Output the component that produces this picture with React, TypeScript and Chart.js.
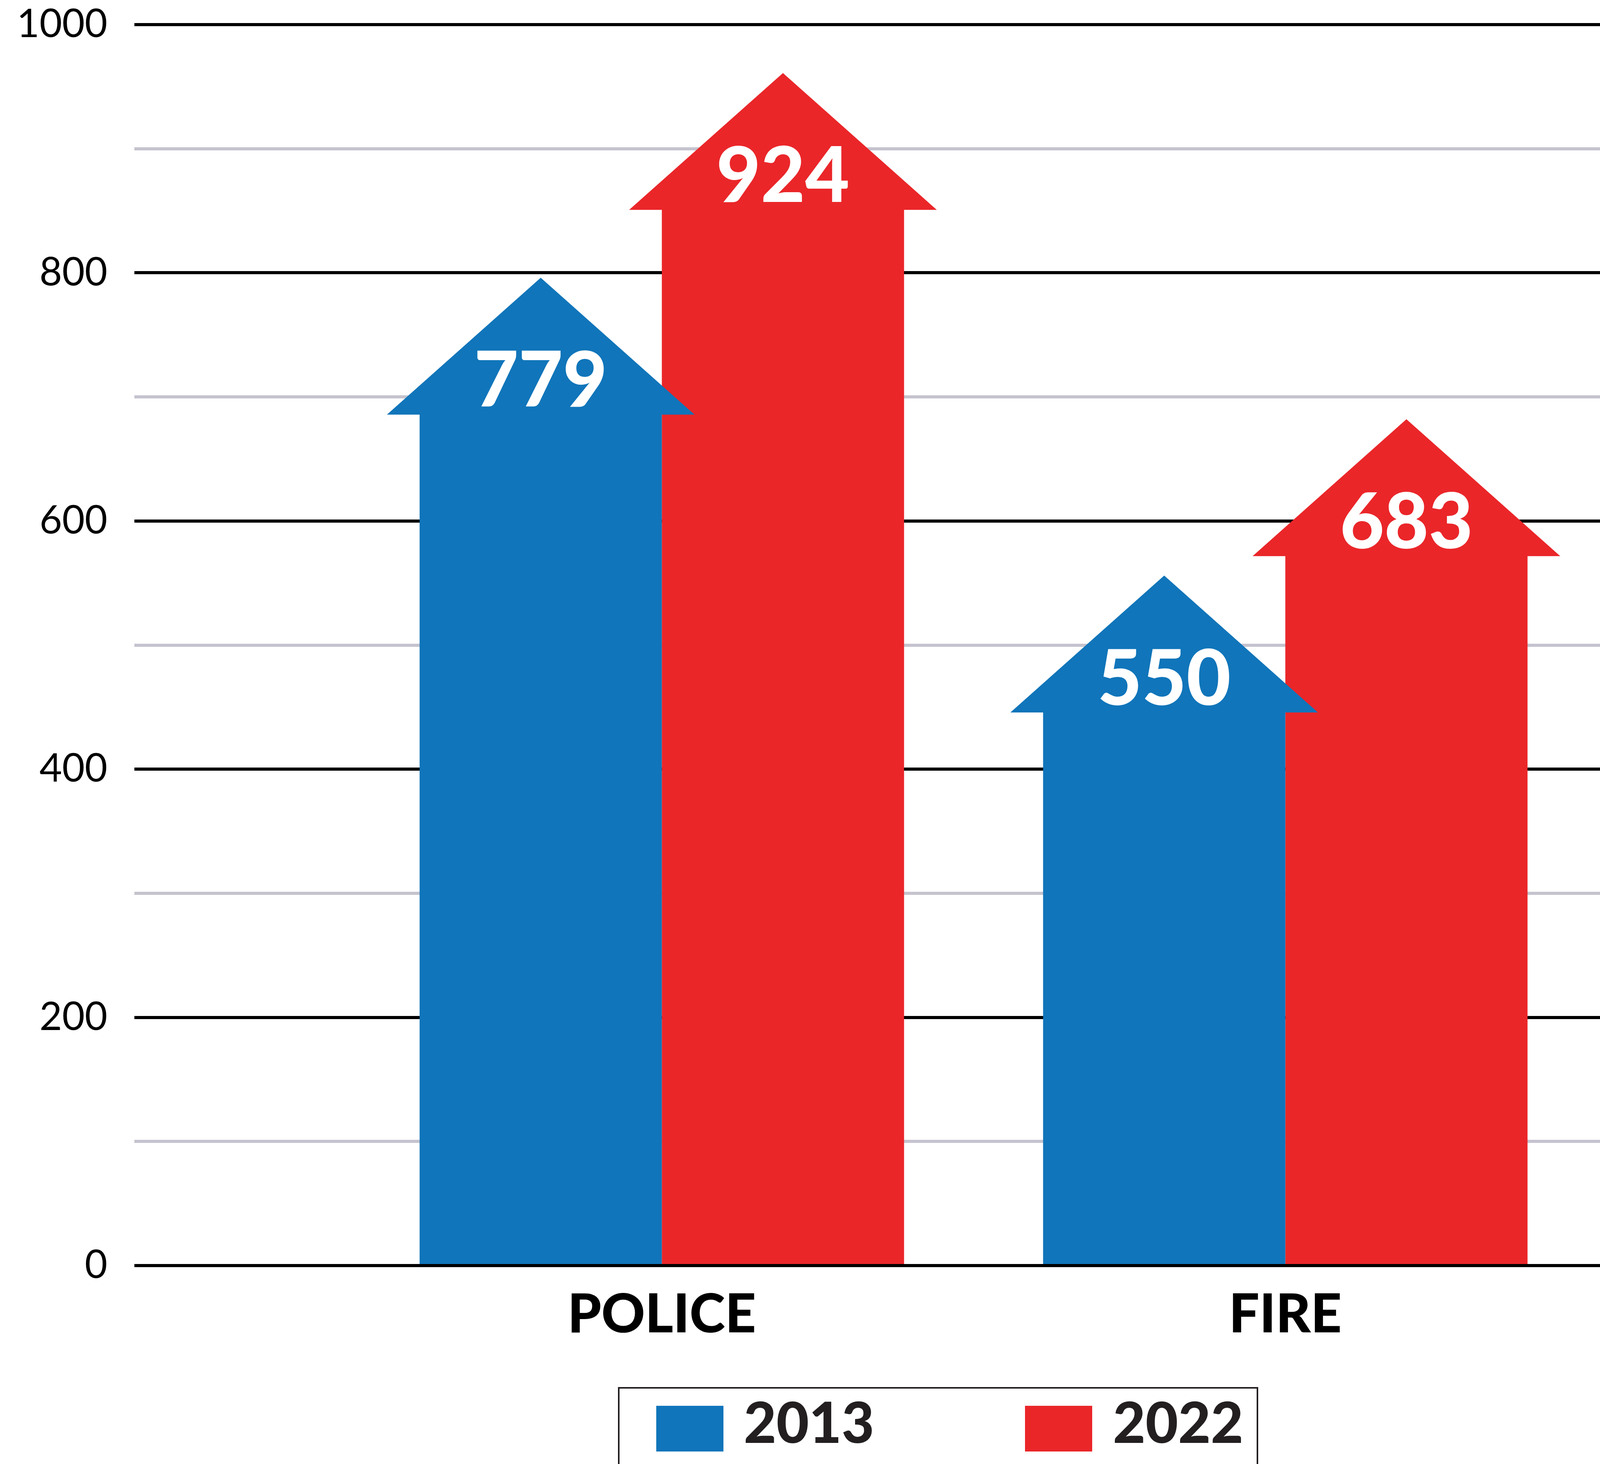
import React, { useEffect, useRef } from "react";
import { Chart, registerables } from "chart.js";

Chart.register(...registerables);

// ---------- data ----------
const categories = ["POLICE", "FIRE"];
const seriesNames = ["2013", "2022"];
// arrow tip heights
const arrowTips2013 = [796, 556];
const arrowTips2022 = [961, 682];
// value labels printed inside the arrow heads
const valueLabels2013 = ["779", "550"];
const valueLabels2022 = ["924", "683"];
const yTickLabels = ["0", "200", "400", "600", "800", "1000"];

// ---------- styles ----------
const W = 4687;
const H = 3748;
const BLUE = "#1075ba";
const RED = "#ea2629";
const TEXT = "#231f20";
const MINOR_GRID = "#c5c3ce";

const arrowPlugin = {
  id: "arrowBars",
  beforeDatasetsDraw(chart: any) {
    const ctx = chart.ctx;
    ctx.save();
    const order = [1, 0];
    for (const di of order) {
      const meta = chart.getDatasetMeta(di);
      const color = chart.data.datasets[di].backgroundColor;
      meta.data.forEach((el: any) => {
        const { x, y, base, width } = el.getProps(["x", "y", "base", "width"], true);
        const half = width / 2;
        const over = width * 0.135;
        const headH = width * 0.565;
        const neck = y + headH;
        ctx.beginPath();
        ctx.moveTo(x - half, base);
        ctx.lineTo(x - half, neck);
        ctx.lineTo(x - half - over, neck);
        ctx.lineTo(x, y);
        ctx.lineTo(x + half + over, neck);
        ctx.lineTo(x + half, neck);
        ctx.lineTo(x + half, base);
        ctx.closePath();
        ctx.fillStyle = color;
        ctx.fill();
      });
    }
    ctx.fillStyle = "#ffffff";
    ctx.font = "900 196px Lato";
    ctx.textAlign = "center";
    ctx.textBaseline = "middle";
    chart.data.datasets.forEach((ds: any, di: number) => {
      const meta = chart.getDatasetMeta(di);
      meta.data.forEach((el: any, i: number) => {
        ctx.fillText(ds.valueLabels[i], el.x, el.y + 267);
      });
    });
    ctx.restore();
    return false;
  },
};

const legendPlugin = {
  id: "boxLegend",
  afterDraw(chart: any) {
    const ctx = chart.ctx;
    ctx.save();
    ctx.strokeStyle = TEXT;
    ctx.lineWidth = 4;
    ctx.beginPath();
    ctx.moveTo(1584, H + 10);
    ctx.lineTo(1584, 3553);
    ctx.lineTo(3219, 3553);
    ctx.lineTo(3219, H + 10);
    ctx.stroke();
    const items = [
      { bx: 1680, tx: 1904 },
      { bx: 2624, tx: 2849 },
    ];
    ctx.font = "900 144px Lato";
    ctx.textAlign = "left";
    ctx.textBaseline = "middle";
    chart.data.datasets.forEach((ds: any, i: number) => {
      const it = items[i];
      ctx.fillStyle = ds.backgroundColor;
      ctx.fillRect(it.bx, 3599, 172, 117);
      ctx.fillStyle = TEXT;
      ctx.fillText(ds.label, it.tx, 3648);
    });
    ctx.restore();
  },
};

export default function App() {
  const ref = useRef<HTMLCanvasElement | null>(null);

  useEffect(() => {
    document.body.style.margin = "0";
    const canvas = ref.current;
    if (!canvas) return;
    const chart = new Chart(canvas, {
      type: "bar",
      data: {
        datasets: [
          {
            label: seriesNames[0],
            data: categories.map((_, i) => ({ x: i, y: arrowTips2013[i] })),
            backgroundColor: BLUE,
            valueLabels: valueLabels2013,
          } as any,
          {
            label: seriesNames[1],
            data: categories.map((_, i) => ({ x: i, y: arrowTips2022[i] })),
            backgroundColor: RED,
            valueLabels: valueLabels2022,
          } as any,
        ],
      },
      options: {
        animation: false,
        responsive: false,
        devicePixelRatio: 1,
        events: [],
        categoryPercentage: 0.777,
        barPercentage: 1,
        layout: { padding: { top: 63, left: 0, right: 0, bottom: 0 } },
        plugins: {
          legend: { display: false },
          tooltip: { enabled: false },
          title: { display: false },
        },
        scales: {
          x: {
            type: "linear",
            offset: false,
            bounds: "data",
            min: -0.846,
            max: 1.875,
            grid: { display: false, offset: false },
            border: { display: false },
            afterBuildTicks: (scale: any) => {
              scale.ticks = categories.map((_, i) => ({ value: i }));
            },
            afterFit: (scale: any) => {
              scale.height = H - 3240;
              scale.paddingLeft = 0;
              scale.paddingRight = 0;
            },
            ticks: {
              padding: 36,
              color: "#000000",
              font: { family: "Lato", size: 138, weight: "900" as any },
              callback: (v: any) => categories[v as number] ?? "",
            },
          },
          y: {
            min: 0,
            max: 1000,
            afterFit: (scale: any) => {
              scale.width = 344;
              scale.paddingTop = 0;
              scale.paddingBottom = 0;
            },
            grid: {
              drawTicks: false,
              lineWidth: 8,
              color: (c: any) => (c.tick && c.tick.value % 200 === 0 ? "#000000" : MINOR_GRID),
            },
            border: { display: false },
            ticks: {
              stepSize: 100,
              padding: 69,
              color: "#000000",
              font: { family: "Lato", size: 100, weight: "normal" as any },
              callback: (v: any) => {
                const idx = (v as number) / 200;
                return Number.isInteger(idx) ? yTickLabels[idx] : "";
              },
            },
          },
        },
      } as any,
      plugins: [arrowPlugin, legendPlugin],
    });
    return () => chart.destroy();
  }, []);

  return (
    <div style={{ width: W, height: H, background: "#ffffff" }}>
      <canvas ref={ref} width={W} height={H} style={{ width: W, height: H, display: "block" }} />
    </div>
  );
}
